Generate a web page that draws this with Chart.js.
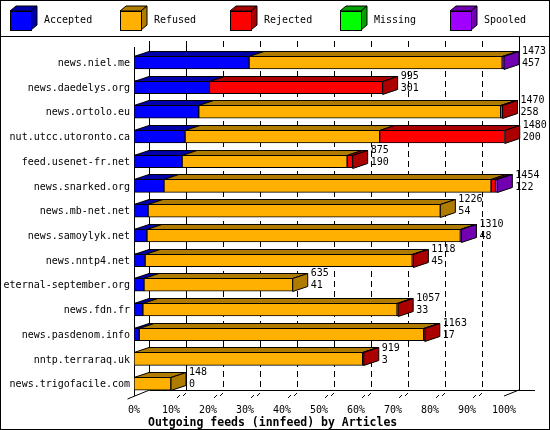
<!DOCTYPE html>
<html><head><meta charset="utf-8">
<script src="https://cdn.jsdelivr.net/npm/chart.js@4/dist/chart.umd.min.js"></script>
<style>html,body{margin:0;padding:0;background:#fff}#wrap{width:550px;height:430px}</style>
</head><body><div id="wrap"><canvas id="c" width="550" height="430"></canvas></div>
<script>
const hosts = ['news.niel.me', 'news.daedelys.org', 'news.ortolo.eu', 'nut.utcc.utoronto.ca', 'feed.usenet-fr.net',
    'news.snarked.org', 'news.mb-net.net', 'news.samoylyk.net', 'news.nntp4.net', 'eternal-september.org',
    'news.fdn.fr', 'news.pasdenom.info', 'nntp.terraraq.uk', 'news.trigofacile.com'];
// segment widths in % of the largest feed
const accepted = [31.1, 20.4, 17.5, 13.8, 13.0, 8.1, 3.8, 3.5, 3.0, 2.7, 2.4, 1.4, 0, 0];
const refused = [68.4, 0, 81.6, 52.6, 44.6, 88.4, 79.0, 84.7, 72.2, 40.2, 68.7, 76.9, 61.8, 10.0];
const rejected = [0, 46.8, 0.5, 33.8, 1.5, 1.2, 0, 0, 0.3, 0, 0.3, 0.3, 0.3, 0];
const missing = [0, 0, 0, 0, 0, 0, 0, 0, 0, 0, 0, 0, 0, 0];
const spooled = [0.5, 0, 0, 0, 0, 0.5, 0, 0.3, 0, 0, 0, 0, 0, 0];
const totals = [1473, 995, 1470, 1480, 875, 1454, 1226, 1310, 1118, 635, 1057, 1163, 919, 148];
const seconds = [457, 301, 258, 200, 190, 122, 54, 48, 45, 41, 33, 17, 3, 0];
const xTicks = [0, 10, 20, 30, 40, 50, 60, 70, 80, 90, 100];

const names = ['Accepted', 'Refused', 'Rejected', 'Missing', 'Spooled'];
const front = ['#0000ff', '#ffb000', '#ff0000', '#00ff00', '#a000ff'];
const dark = ['#0000a8', '#b07c00', '#aa0000', '#00a000', '#7000b0'];
const DX = 15, DY = 5;
const FONT = '10px "DejaVu Sans Mono"';

function poly(ctx, pts, fill) {
    ctx.beginPath();
    ctx.moveTo(pts[0][0], pts[0][1]);
    for (let i = 1; i < pts.length; i++) ctx.lineTo(pts[i][0], pts[i][1]);
    ctx.closePath();
    ctx.fillStyle = fill;
    ctx.fill();
    ctx.stroke();
}

const deco = {
    id: 'deco',
    beforeDatasetsDraw(chart) {
        const ctx = chart.ctx, xs = chart.scales.x, a = chart.chartArea;
        ctx.save();
        ctx.strokeStyle = '#000';
        ctx.lineWidth = 1;
        // outer frame and legend box
        ctx.strokeRect(0.5, 0.5, 549, 429);
        ctx.beginPath(); ctx.moveTo(0, 36.5); ctx.lineTo(550, 36.5); ctx.stroke();
        // back plane gridlines
        const top = 41, back = a.bottom - DY - 1;
        xTicks.forEach(t => {
            const x = Math.round(xs.getPixelForValue(t)) + DX + 0.5;
            ctx.setLineDash(t <= 10 || t === 100 ? [] : [6, 4]);
            ctx.beginPath(); ctx.moveTo(x, t === 100 ? 37 : top); ctx.lineTo(x, back); ctx.stroke();
        });
        ctx.setLineDash([]);
        // floor and front axis
        const x0 = Math.round(xs.getPixelForValue(0)) + 0.5, x1 = xs.getPixelForValue(100);
        ctx.beginPath();
        ctx.moveTo(x0, 47); ctx.lineTo(x0, a.bottom);
        ctx.moveTo(x0 + DX, back + 0.5); ctx.lineTo(x1 + DX + 16, back + 0.5);
        ctx.moveTo(x0 - 7, a.bottom + 3); ctx.lineTo(x0 + DX, back);
        ctx.moveTo(x1, a.bottom); ctx.lineTo(x1 + DX, back);
        ctx.stroke();
        // tick marks and labels
        ctx.font = FONT; ctx.fillStyle = '#000'; ctx.textAlign = 'center'; ctx.textBaseline = 'middle';
        xTicks.forEach(t => {
            const x = xs.getPixelForValue(t);
            if (t > 0 && t < 100) {
                ctx.beginPath(); ctx.moveTo(x + 6, a.bottom + 2); ctx.lineTo(x + 9, a.bottom - 1);
                ctx.moveTo(x + 12, a.bottom); ctx.lineTo(x + 15, a.bottom - 3); ctx.stroke();
            }
            ctx.fillText(t + '%', x, a.bottom + 14);
        });
        ctx.font = 'bold 11.5px "DejaVu Sans Mono"';
        ctx.textAlign = 'left';
        ctx.fillText('Outgoing feeds (innfeed) by Articles', 148, a.bottom + 27);
        // host labels
        ctx.font = FONT; ctx.textAlign = 'right';
        hosts.forEach((h, i) => ctx.fillText(h, 130, chart.scales.y.getPixelForValue(i) + 1));
        // legend cubes
        names.forEach((n, k) => {
            const lx = 10 + k * 110, ly = 11;
            poly(ctx, [[lx, ly], [lx + 6, ly - 5], [lx + 27, ly - 5], [lx + 21, ly]], dark[k]);
            poly(ctx, [[lx + 21, ly], [lx + 27, ly - 5], [lx + 27, ly + 14], [lx + 21, ly + 19]], dark[k]);
            ctx.fillStyle = front[k]; ctx.fillRect(lx + 0.5, ly + 0.5, 21, 19); ctx.strokeRect(lx + 0.5, ly + 0.5, 21, 19);
            ctx.fillStyle = '#000'; ctx.textAlign = 'left';
            ctx.fillText(n, lx + 34, ly + 9);
        });
        ctx.restore();
    },
    afterDatasetsDraw(chart) {
        const ctx = chart.ctx;
        ctx.save();
        ctx.strokeStyle = '#000'; ctx.lineWidth = 1;
        hosts.forEach((h, i) => {
            let last = null;
            chart.data.datasets.forEach((ds, k) => {
                const bar = chart.getDatasetMeta(k).data[i];
                if (!ds.data[i]) return;
                const p = bar.getProps(['x', 'y', 'base', 'height'], true);
                const yt = Math.round(p.y - p.height / 2) + 0.5;
                poly(ctx, [[p.base, yt], [p.base + DX, yt - DY], [p.x + DX, yt - DY], [p.x, yt]], dark[k]);
                last = { k, p, yt };
            });
            if (!last) return;
            const { k, p, yt } = last;
            const yb = yt + p.height;
            poly(ctx, [[p.x, yt], [p.x + DX, yt - DY], [p.x + DX, yb - DY], [p.x, yb]], dark[k]);
            ctx.font = FONT; ctx.fillStyle = '#000'; ctx.textAlign = 'left'; ctx.textBaseline = 'middle';
            ctx.fillText(String(totals[i]), p.x + DX + 3, p.y - 11);
            ctx.fillText(String(seconds[i]), p.x + DX + 3, p.y + 1);
        });
        ctx.restore();
    }
};

new Chart(document.getElementById('c'), {
    type: 'bar',
    data: {
        labels: hosts,
        datasets: [accepted, refused, rejected, missing, spooled].map((d, k) => ({
            label: names[k], data: d, backgroundColor: front[k], borderColor: '#000', borderWidth: 1,
            borderSkipped: false, barThickness: 13,
        })),
    },
    options: {
        indexAxis: 'y',
        responsive: false,
        animation: false,
        devicePixelRatio: 1,
        layout: { padding: { left: 134, right: 46, top: 50, bottom: 34 } },
        scales: {
            x: { stacked: true, min: 0, max: 100, display: false },
            y: { stacked: true, display: false },
        },
        plugins: { legend: { display: false }, tooltip: { enabled: false } },
    },
    plugins: [deco],
});
</script></body></html>
